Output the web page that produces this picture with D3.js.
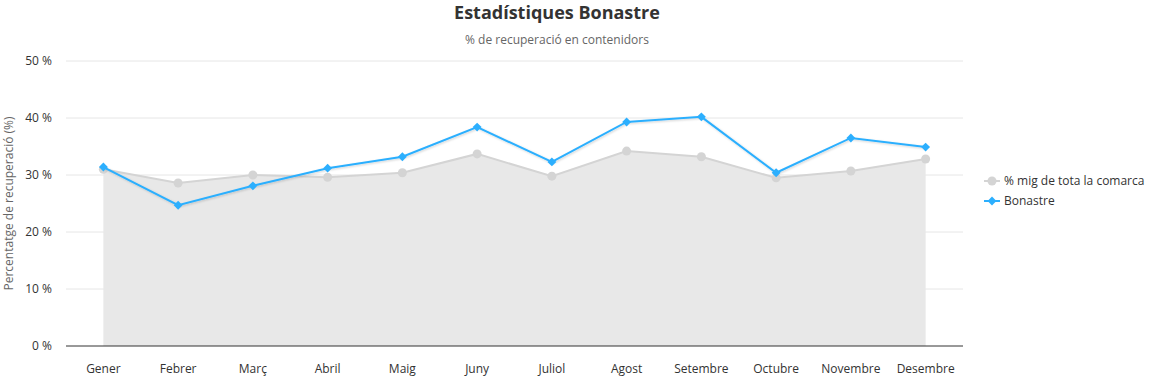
<!DOCTYPE html>
<html lang="ca">
<head>
<meta charset="UTF-8">
<title>Estadístiques Bonastre</title>
<script src="https://d3js.org/d3.v7.min.js"></script>
<style>
    body { margin: 0; background: #fff; font-family: "Open Sans", "Noto Sans", sans-serif; }
    svg { display: block; }
</style>
</head>
<body>
<svg id="chart"></svg>
<script>
    // dades
    const mesos = ["Gener", "Febrer", "Març", "Abril", "Maig", "Juny", "Juliol", "Agost", "Setembre", "Octubre", "Novembre", "Desembre"];
    const mitjanaComarca = [31.0, 28.6, 30.0, 29.6, 30.4, 33.7, 29.8, 34.2, 33.2, 29.5, 30.7, 32.8];
    const bonastre = [31.4, 24.7, 28.1, 31.2, 33.2, 38.4, 32.3, 39.3, 40.2, 30.4, 36.5, 34.9];
    const yTicks = [0, 10, 20, 30, 40, 50];
    const seriesNames = ["% mig de tota la comarca", "Bonastre"];

    const W = 1156, H = 377;
    const margin = {top: 61, right: 193, bottom: 31, left: 66};
    const width = W - margin.left - margin.right;
    const height = H - margin.top - margin.bottom;

    const svg = d3.select("#chart").attr("width", W).attr("height", H);

    const defs = svg.append("defs");
    const f = defs.append("filter").attr("id", "shadow")
        .attr("x", "-10%").attr("y", "-20%").attr("width", "120%").attr("height", "140%");
    f.append("feDropShadow").attr("dx", 1).attr("dy", 1).attr("stdDeviation", 1.2)
        .attr("flood-color", "#000").attr("flood-opacity", 0.18);

    const g = svg.append("g").attr("transform", `translate(${margin.left},${margin.top})`);

    const x = d3.scalePoint().domain(mesos).range([0, width]).padding(0.5);
    const y = d3.scaleLinear().domain([0, 50]).range([height, 0]);

    // graella
    g.selectAll(".grid").data(yTicks.filter(d => d > 0)).join("line")
        .attr("x1", 0).attr("x2", width)
        .attr("y1", d => y(d)).attr("y2", d => y(d))
        .attr("stroke", "#e6e6e6").attr("stroke-width", 1);

    // àrea comarca
    const area = d3.area()
        .x((d, i) => x(mesos[i]))
        .y0(y(0))
        .y1(d => y(d));
    g.append("path").datum(mitjanaComarca)
        .attr("d", area)
        .attr("fill", "#e8e8e8");

    const line = d3.line().x((d, i) => x(mesos[i])).y(d => y(d));

    g.append("path").datum(mitjanaComarca)
        .attr("d", line)
        .attr("fill", "none")
        .attr("stroke", "#d4d4d4")
        .attr("stroke-width", 2);

    g.selectAll(".dotgris").data(mitjanaComarca).join("circle")
        .attr("cx", (d, i) => x(mesos[i]))
        .attr("cy", d => y(d))
        .attr("r", 4.5)
        .attr("fill", "#d4d4d4");

    // línia Bonastre
    const blau = "#2caffe";
    g.append("path").datum(bonastre)
        .attr("d", line)
        .attr("fill", "none")
        .attr("stroke", blau)
        .attr("stroke-width", 2)
        .attr("filter", "url(#shadow)");

    const diamond = d3.symbol().type(d3.symbolDiamond2).size(50);
    g.selectAll(".diam").data(bonastre).join("path")
        .attr("transform", (d, i) => `translate(${x(mesos[i])},${y(d)})`)
        .attr("d", diamond)
        .attr("fill", blau);

    // eixos
    g.append("line")
        .attr("x1", 0).attr("x2", width)
        .attr("y1", height).attr("y2", height)
        .attr("stroke", "#333").attr("stroke-width", 1);

    g.selectAll(".ylab").data(yTicks).join("text")
        .attr("x", -14)
        .attr("y", d => y(d))
        .attr("dy", "0.35em")
        .attr("text-anchor", "end")
        .attr("font-size", 12)
        .attr("fill", "#333")
        .text(d => d + " %");

    g.selectAll(".xlab").data(mesos).join("text")
        .attr("x", d => x(d))
        .attr("y", height + 27)
        .attr("text-anchor", "middle")
        .attr("font-size", 12)
        .attr("fill", "#333")
        .text(d => d);

    svg.append("text")
        .attr("transform", `translate(13,${margin.top + height / 2}) rotate(-90)`)
        .attr("text-anchor", "middle")
        .attr("font-size", 12)
        .attr("fill", "#666")
        .text("Percentatge de recuperació (%)");

    // títols
    svg.append("text")
        .attr("x", 557).attr("y", 19)
        .attr("text-anchor", "middle")
        .attr("font-size", 18)
        .attr("font-weight", "bold")
        .attr("fill", "#333")
        .text("Estadístiques Bonastre");

    svg.append("text")
        .attr("x", 557).attr("y", 44)
        .attr("text-anchor", "middle")
        .attr("font-size", 12)
        .attr("fill", "#666")
        .text("% de recuperació en contenidors");

    // llegenda
    const leg = svg.append("g").attr("transform", "translate(984,181)");
    const items = leg.selectAll("g").data(seriesNames).join("g")
        .attr("transform", (d, i) => `translate(0,${i * 20})`);
    items.append("line")
        .attr("x1", 0).attr("x2", 16)
        .attr("stroke", (d, i) => i === 0 ? "#d4d4d4" : blau)
        .attr("stroke-width", 2);
    items.filter((d, i) => i === 0).append("circle")
        .attr("cx", 8).attr("r", 4.5).attr("fill", "#d4d4d4");
    items.filter((d, i) => i === 1).append("path")
        .attr("transform", "translate(8,0)")
        .attr("d", diamond).attr("fill", blau);
    items.append("text")
        .attr("x", 20)
        .attr("dy", "0.35em")
        .attr("font-size", 12)
        .attr("fill", "#333")
        .text(d => d);
</script>
</body>
</html>
